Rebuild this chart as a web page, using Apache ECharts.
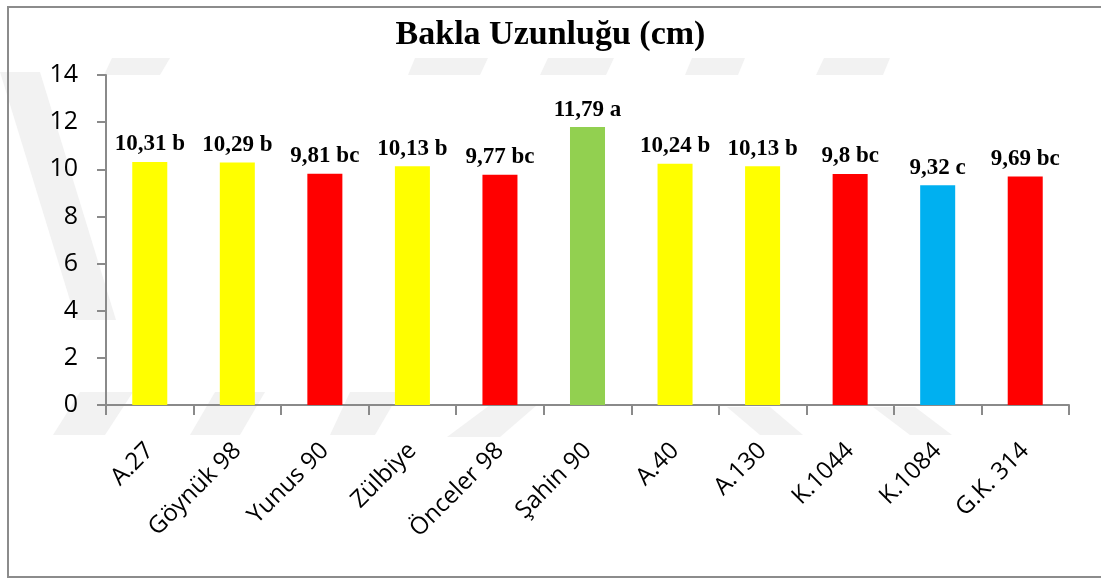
<!DOCTYPE html>
<html>
<head>
<meta charset="utf-8">
<script src="https://cdn.jsdelivr.net/npm/echarts@6/dist/echarts.min.js"></script>
<style>
  html, body { margin: 0; padding: 0; background: #fff; }
  #chart { width: 1101px; height: 579px; }
</style>
</head>
<body>
<div id="chart"></div>
<script>
const categories = ["A.27", "Göynük 98", "Yunus 90", "Zülbiye", "Önceler 98", "Şahin 90", "A.40", "A.130", "K.1044", "K.1084", "G.K. 314"];
const lengths = [10.31, 10.29, 9.81, 10.13, 9.77, 11.79, 10.24, 10.13, 9.8, 9.32, 9.69];
const groups = ["b", "b", "bc", "b", "bc", "a", "b", "b", "bc", "c", "bc"];
const yTicks = [0, 2, 4, 6, 8, 10, 12, 14];

// renk: istatistik grubuna gore
const groupColor = { a: "#92D050", b: "#FFFF00", bc: "#FF0000", c: "#00B0F0" };
const axisGrey = "#8a8a8a";
const wm = "#f2f2f2";

const chart = echarts.init(document.getElementById("chart"));

// arka plandaki soluk filigran
function para(points) {
  return { type: "polygon", silent: true, z: -10, shape: { points: points }, style: { fill: wm } };
}
const watermark = [
  para([[0, 72], [40, 72], [116, 320], [76, 320]]),
  para([[112, 58], [170, 58], [160, 75], [104, 75]]),
  para([[415, 58], [488, 58], [480, 75], [408, 75]]),
  para([[548, 58], [614, 58], [606, 75], [540, 75]]),
  para([[692, 58], [745, 58], [738, 75], [685, 75]]),
  para([[824, 58], [890, 58], [883, 75], [816, 75]]),
  para([[80, 392], [133, 392], [105, 435], [53, 435]]),
  para([[215, 392], [265, 392], [240, 435], [190, 435]]),
  para([[350, 392], [400, 392], [375, 435], [330, 435]]),
  para([[490, 405], [537, 405], [500, 437], [447, 437]]),
  para([[727, 407], [770, 407], [803, 435], [760, 435]]),
  para([[873, 407], [915, 407], [952, 435], [910, 435]])
];

chart.setOption({
  animation: false,
  backgroundColor: "#fff",
  title: {
    text: "Bakla Uzunluğu (cm)",
    left: "center",
    top: 13,
    textStyle: { fontFamily: "Liberation Serif", fontWeight: "bold", fontSize: 34, color: "#000" }
  },
  graphic: watermark.concat([
    {
      type: "rect",
      silent: true,
      shape: { x: 8, y: 7, width: 1100, height: 570 },
      style: { fill: "none", stroke: "#8c8c8c", lineWidth: 2 }
    }
  ]),
  grid: { left: 106, right: 32, top: 75, bottom: 174 },
  xAxis: {
    type: "category",
    data: categories,
    axisLine: { lineStyle: { color: axisGrey, width: 2 } },
    axisTick: { show: true, length: 10, alignWithLabel: false, lineStyle: { color: axisGrey, width: 2 } },
    axisLabel: {
      rotate: 45,
      interval: 0,
      margin: 42,
      fontFamily: "Open Sans",
      fontSize: 24,
      color: "#000"
    }
  },
  yAxis: {
    type: "value",
    min: yTicks[0],
    max: yTicks[yTicks.length - 1],
    interval: yTicks[1] - yTicks[0],
    axisLine: { show: true, lineStyle: { color: axisGrey, width: 2 } },
    axisTick: { show: true, length: 9, lineStyle: { color: axisGrey, width: 2 } },
    splitLine: { show: false },
    axisLabel: { margin: 28, fontFamily: "Open Sans", fontSize: 25, color: "#000" }
  },
  series: [
    {
      type: "bar",
      barWidth: "40%",
      data: lengths.map((v, i) => ({ value: v, itemStyle: { color: groupColor[groups[i]] } })),
      label: {
        show: true,
        position: "top",
        distance: 6,
        fontFamily: "Liberation Serif",
        fontWeight: "bold",
        fontSize: 23,
        color: "#000",
        formatter: p => String(p.value).replace(".", ",") + " " + groups[p.dataIndex]
      }
    }
  ]
});
</script>
</body>
</html>
